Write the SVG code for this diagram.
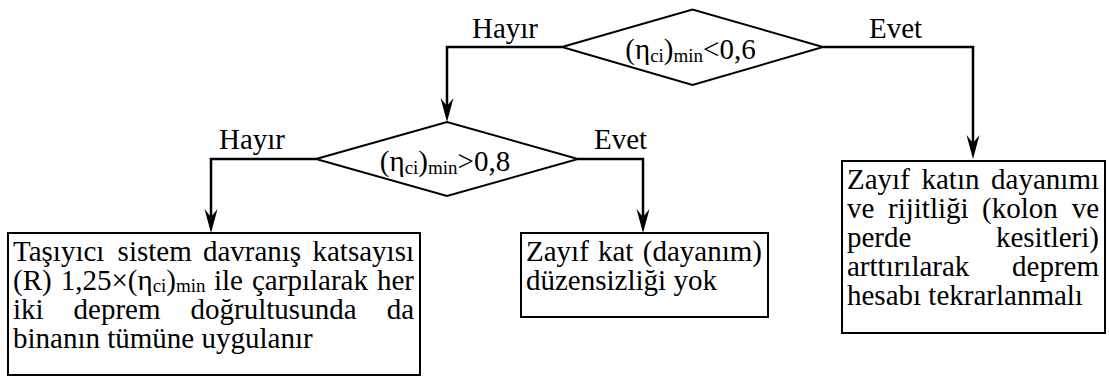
<svg xmlns="http://www.w3.org/2000/svg" width="1109" height="379" viewBox="0 0 1109 379" font-family="'Liberation Serif', 'Times New Roman', Times, 'DejaVu Serif', serif">
<style>
text{font-family:'Liberation Serif','Times New Roman',Times,'DejaVu Serif',serif;font-size:29px;fill:#000}
.shape{fill:#fff;stroke:#000;stroke-width:2}
.conn{fill:none;stroke:#000;stroke-width:2.5;marker-end:url(#arr)}
.sub{font-size:19px}
.e{text-anchor:end}
.m{text-anchor:middle}
</style>
<defs>
<marker id="arr" markerUnits="userSpaceOnUse" markerWidth="28" markerHeight="16" viewBox="-26 -8 28 16" refX="-8" refY="0" orient="auto">
<path d="M0,0 L-24,-6.5 L-16,0 L-24,6.5 Z" fill="#000"/>
</marker>
</defs>
<rect width="1109" height="379" fill="#fff"/>
<g id="connectors">
<path class="conn" d="M562,47 H447 V114"/>
<path class="conn" d="M823,47 H973 V151"/>
<path class="conn" d="M316,159 H211 V225"/>
<path class="conn" d="M578,159 H643 V225"/>
<text x="472" y="38">Hayır</text>
<text x="869" y="38">Evet</text>
<text x="219" y="149">Hayır</text>
<text x="594" y="149">Evet</text>
</g>
<g id="d1">
<polygon class="shape" points="562,47 692.5,9.5 823,47 692.5,85"/>
<text class="m" x="690.5" y="59">(η<tspan class="sub" dy="3">ci</tspan><tspan dy="-3">)</tspan><tspan class="sub" dy="3">min</tspan><tspan dy="-3">&lt;0,6</tspan></text>
</g>
<g id="d2">
<polygon class="shape" points="316,159 447,122 578,159 447,196"/>
<text class="m" x="445" y="171">(η<tspan class="sub" dy="3">ci</tspan><tspan dy="-3">)</tspan><tspan class="sub" dy="3">min</tspan><tspan dy="-3">&gt;0,8</tspan></text>
</g>
<g id="b1">
<rect class="shape" x="8" y="233" width="412" height="142"/>
<text x="13" y="261">Taşıyıcı</text>
<text x="117.6" y="261">sistem</text>
<text x="202.9" y="261">davranış</text>
<text class="e" x="414" y="261">katsayısı</text>
<text y="290"><tspan x="13">(R)</tspan><tspan x="60.7">1,25×(η</tspan><tspan class="sub" dy="2">ci</tspan><tspan dy="-2">)</tspan><tspan class="sub" dy="2">min</tspan><tspan x="214" dy="-2">ile</tspan><tspan x="252">çarpılarak</tspan><tspan x="377">her</tspan></text>
<text x="13" y="319">iki</text>
<text x="73.6" y="319">deprem</text>
<text x="190.6" y="319">doğrultusunda</text>
<text class="e" x="414" y="319">da</text>
<text x="13" y="348">binanın tümüne uygulanır</text>
</g>
<g id="b2">
<rect class="shape" x="521" y="233" width="247" height="84"/>
<text x="526" y="261">Zayıf</text>
<text x="598" y="261">kat</text>
<text class="e" x="762" y="261">(dayanım)</text>
<text x="526" y="290">düzensizliği yok</text>
</g>
<g id="b3">
<rect class="shape" x="842" y="161" width="263" height="172"/>
<text x="847" y="189">Zayıf</text>
<text x="921.5" y="189">katın</text>
<text class="e" x="1099" y="189">dayanımı</text>
<text x="847" y="218">ve</text>
<text x="888" y="218">rijitliği</text>
<text x="982" y="218">(kolon</text>
<text class="e" x="1099" y="218">ve</text>
<text x="847" y="247">perde</text>
<text class="e" x="1099" y="247">kesitleri)</text>
<text x="847" y="276">arttırılarak</text>
<text class="e" x="1099" y="276">deprem</text>
<text x="847" y="305">hesabı tekrarlanmalı</text>
</g>
</svg>
